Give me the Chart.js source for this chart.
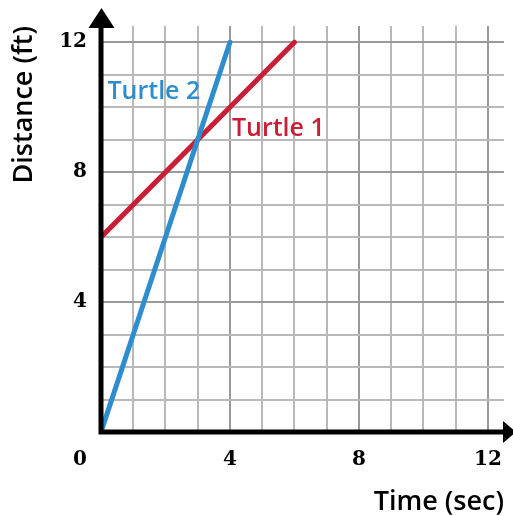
<!DOCTYPE html>
<html>
<head>
<meta charset="utf-8">
<script src="https://cdn.jsdelivr.net/npm/chart.js@4/dist/chart.umd.min.js"></script>
<style>
  html, body { margin: 0; padding: 0; background: #fff; }
  #wrap { width: 513px; height: 516px; }
</style>
</head>
<body>
<div id="wrap"><canvas id="turtleChart"></canvas></div>
<script>
// time (sec) and distance (ft) for each turtle
var turtle1Time = [0, 6];
var turtle1Dist = [6, 12];
var turtle2Time = [0, 4];
var turtle2Dist = [0, 12];
var seriesNames = ["Turtle 1", "Turtle 2"];
var tickLabels = [4, 8, 12];

var blue = "rgb(46, 141, 206)";
var red = "rgb(200, 30, 54)";

function toPoints(xs, ys) {
  return xs.map(function (x, i) { return { x: x, y: ys[i] }; });
}

function gridColor(ctx) {
  var v = ctx.tick.value;
  if (v === 0) return "rgba(0,0,0,0)";
  return v % 4 === 0 ? "#9a9a9a" : "#b9b9b9";
}

function tickText(v) {
  return tickLabels.indexOf(v) >= 0 ? String(v) : "";
}

// black axes with arrow heads, the shared "0", and the line labels
var axesPlugin = {
  id: "axesPlugin",
  afterDraw: function (chart) {
    var c = chart.ctx;
    var xs = chart.scales.x, ys = chart.scales.y;
    var area = chart.chartArea;
    var x0 = xs.getPixelForValue(0);
    var y0 = ys.getPixelForValue(0);

    c.save();
    c.strokeStyle = "#000";
    c.fillStyle = "#000";
    c.lineWidth = 5;
    c.beginPath();
    c.moveTo(x0, y0 + 2.5);
    c.lineTo(x0, area.top + 2);
    c.moveTo(x0 - 2.5, y0);
    c.lineTo(area.right, y0);
    c.stroke();

    // up arrow
    c.beginPath();
    c.moveTo(x0 + 0.5, area.top - 18);
    c.lineTo(x0 - 12.5, area.top + 2);
    c.lineTo(x0 + 13.5, area.top + 2);
    c.closePath();
    c.fill();

    // right arrow
    c.beginPath();
    c.moveTo(area.right + 12, y0);
    c.lineTo(area.right - 1, y0 - 11);
    c.lineTo(area.right - 1, y0 + 11);
    c.closePath();
    c.fill();

    c.font = "bold 20px 'DejaVu Serif'";
    c.textAlign = "center";
    c.textBaseline = "middle";
    c.fillText("0", x0 - 21, y0 + 28);

    c.font = "600 25px 'Open Sans'";
    c.textAlign = "left";
    c.textBaseline = "alphabetic";
    c.fillStyle = blue;
    c.fillText(seriesNames[1], xs.getPixelForValue(0.2), ys.getPixelForValue(10.25));
    c.fillStyle = red;
    c.fillText(seriesNames[0], xs.getPixelForValue(4.06), ys.getPixelForValue(9.1));
    c.restore();
  }
};

var chart = new Chart(document.getElementById("turtleChart"), {
  type: "line",
  data: {
    datasets: [
      {
        label: seriesNames[1],
        data: toPoints(turtle2Time, turtle2Dist),
        borderColor: blue,
        borderWidth: 5,
        borderCapStyle: "round",
        pointRadius: 0,
        fill: false
      },
      {
        label: seriesNames[0],
        data: toPoints(turtle1Time, turtle1Dist),
        borderColor: red,
        borderWidth: 5,
        borderCapStyle: "round",
        pointRadius: 0,
        fill: false
      }
    ]
  },
  options: {
    responsive: true,
    maintainAspectRatio: false,
    animation: false,
    layout: { padding: { top: 26, right: 9, left: 0, bottom: 0 } },
    plugins: {
      legend: { display: false },
      tooltip: { enabled: false }
    },
    scales: {
      x: {
        type: "linear",
        min: 0,
        max: 12.5,
        afterFit: function (s) {
          s.height = 84;
          s.paddingLeft = 0;
          s.paddingRight = 0;
        },
        border: { display: false },
        grid: { color: gridColor, lineWidth: 2, drawTicks: false },
        ticks: {
          stepSize: 1,
          includeBounds: false,
          autoSkip: false,
          maxRotation: 0,
          padding: 16,
          color: "#000",
          font: { family: "'DejaVu Serif'", size: 20, weight: "bold" },
          callback: tickText
        },
        title: {
          display: true,
          text: "Time (sec)",
          align: "end",
          color: "#000",
          padding: { top: 0, bottom: 0 },
          font: { family: "'Open Sans'", size: 27, weight: "600", lineHeight: 1.0 }
        }
      },
      y: {
        type: "linear",
        min: 0,
        max: 12.5,
        afterFit: function (s) {
          s.width = 101;
          s.paddingTop = 0;
          s.paddingBottom = 0;
        },
        border: { display: false },
        grid: { color: gridColor, lineWidth: 2, drawTicks: false },
        ticks: {
          stepSize: 1,
          includeBounds: false,
          autoSkip: false,
          padding: 14,
          color: "#000",
          font: { family: "'DejaVu Serif'", size: 20, weight: "bold" },
          callback: tickText
        },
        title: {
          display: true,
          text: "Distance (ft)",
          align: "end",
          color: "#000",
          padding: { top: 8, bottom: 0 },
          font: { family: "'Open Sans'", size: 27, weight: "600" }
        }
      }
    }
  },
  plugins: [axesPlugin]
});
</script>
</body>
</html>
